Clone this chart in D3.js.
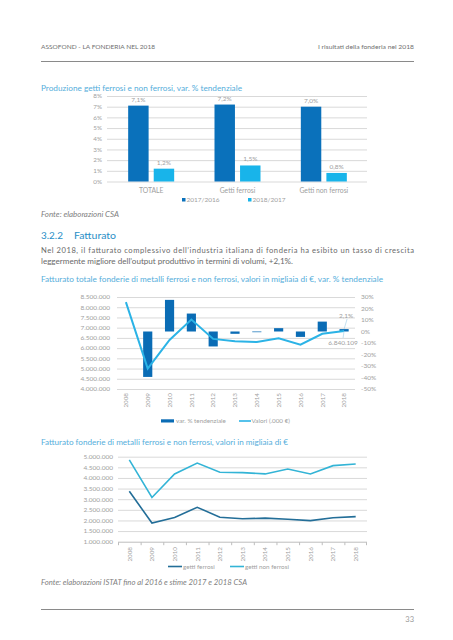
<!DOCTYPE html>
<html><head><meta charset="utf-8">
<script src="https://cdn.jsdelivr.net/npm/d3@7"></script>
<style>body{margin:0;background:#fff} svg{display:block} text{font-family:Lato,"Open Sans",sans-serif;font-weight:400}</style>
</head><body>
<script>
// ---------- DATA ----------
const prodCategories = ["TOTALE", "Getti ferrosi", "Getti non ferrosi"];
const prodSeries = ["2017/2016", "2018/2017"];
const prod1716 = [7.1, 7.2, 7.0];
const prod1817 = [1.2, 1.5, 0.8];
const prodTicks = [0, 1, 2, 3, 4, 5, 6, 7, 8];

const years = ["2008", "2009", "2010", "2011", "2012", "2013", "2014", "2015", "2016", "2017", "2018"];
const fattVar = [null, -39.5, 27.5, 15.6, -13.0, -2.0, -0.6, 2.9, -4.7, 8.6, 2.1];
const fattVal = [8250000, 5000000, 6400000, 7400000, 6450000, 6330000, 6300000, 6480000, 6170000, 6700000, 6840109];
const fattLeftTicks = [4000000, 4500000, 5000000, 5500000, 6000000, 6500000, 7000000, 7500000, 8000000, 8500000];
const fattRightTicks = [-50, -40, -30, -20, -10, 0, 10, 20, 30];

const getti = ["getti ferrosi", "getti non ferrosi"];
const ferrosi = [3370000, 1880000, 2140000, 2620000, 2150000, 2080000, 2110000, 2060000, 1990000, 2130000, 2180000];
const nonFerrosi = [4850000, 3080000, 4190000, 4700000, 4270000, 4250000, 4190000, 4420000, 4190000, 4580000, 4660000];
const gettiTicks = [1000000, 1500000, 2000000, 2500000, 3000000, 3500000, 4000000, 4500000, 5000000];

// ---------- SETUP ----------
const W = 453, H = 640;
const svg = d3.select("body").append("svg").attr("width", W).attr("height", H);
const it = d3.formatLocale({decimal: ",", thousands: ".", grouping: [3], currency: ["€", ""]});
const fmtInt = it.format(",d");
const fmtPct1 = v => it.format(".1f")(v) + "%";

const gray = "#a0a0a0", grid = "#d9d9d9", titleBlue = "#55aedb";

function txt(x, y, s, o = {}) {
  const t = svg.append("text").attr("x", x).attr("y", y).text(s)
    .attr("font-size", o.size || 7).attr("fill", o.fill || gray)
    .attr("text-anchor", o.anchor || "start");
  if (o.len) t.attr("textLength", o.len).attr("lengthAdjust", "spacingAndGlyphs");
  if (o.style) t.attr("font-style", o.style);
  if (o.weight) t.attr("font-weight", o.weight);
  return t;
}

// ---------- PAGE TEXT ----------
txt(41, 49, "ASSOFOND - LA FONDERIA NEL 2018", {size: 6.5, fill: "#707070", len: 114});
txt(414, 49, "I risultati della fonderia nel 2018", {size: 6.5, fill: "#707070", anchor: "end", len: 96});
svg.append("line").attr("x1", 41).attr("x2", 414).attr("y1", 61.5).attr("y2", 61.5).attr("stroke", "#8a8a8a").attr("stroke-width", 1);

txt(41, 91, "Produzione getti ferrosi e non ferrosi, var. % tendenziale", {size: 7.3, fill: titleBlue, len: 201});

txt(41, 217, "Fonte: elaborazioni CSA", {size: 7, fill: "#808080", style: "italic", len: 78});

txt(41, 238.5, "3.2.2", {size: 9, fill: "#2a8fc7", weight: 600, len: 22});
txt(74, 238.5, "Fatturato", {size: 9, fill: "#2a8fc7", weight: 600, len: 42});
txt(41, 253, "Nel 2018, il fatturato complessivo dell’industria italiana di fonderia ha esibito un tasso di crescita", {size: 7.6, fill: "#6a6a6a", len: 373}).attr("lengthAdjust", "spacing");
txt(41, 263.5, "leggermente migliore dell’output produttivo in termini di volumi, +2,1%.", {size: 7.6, fill: "#6a6a6a", len: 252});

txt(41, 282, "Fatturato totale fonderie di metalli ferrosi e non ferrosi, valori in migliaia di €, var. % tendenziale", {size: 7.5, fill: titleBlue, len: 342});

txt(41, 444.5, "Fatturato fonderie di metalli ferrosi e non ferrosi, valori in migliaia di €", {size: 7.5, fill: titleBlue, len: 247});

txt(41, 584.5, "Fonte: elaborazioni ISTAT fino al 2016 e stime 2017 e 2018 CSA", {size: 7, fill: "#808080", style: "italic", len: 206});

svg.append("line").attr("x1", 41).attr("x2", 414).attr("y1", 609.5).attr("y2", 609.5).attr("stroke", "#8a8a8a").attr("stroke-width", 1);
txt(414, 622, "33", {size: 7.5, fill: "#999", anchor: "end"});

// ---------- CHART 1 ----------
{
  const g = svg.append("g");
  const y = d3.scaleLinear().domain([0, 8]).range([181.5, 96]);
  const x0 = d3.scaleBand().domain(prodCategories).range([108, 367]);
  const half = 23;
  const x1 = d3.scaleBand().domain(prodSeries).range([x0.bandwidth() / 2 - half, x0.bandwidth() / 2 + half]).paddingInner(0.2);
  const colors = d3.scaleOrdinal().domain(prodSeries).range(["#0a71bb", "#18b4ea"]);
  g.append("g").selectAll("line").data(prodTicks).join("line")
    .attr("x1", 107).attr("x2", 367).attr("y1", d => y(d) + 0.5).attr("y2", d => y(d) + 0.5)
    .attr("stroke", grid).attr("stroke-width", 1);
  g.append("g").selectAll("text").data(prodTicks).join("text")
    .attr("x", 102).attr("y", d => y(d) + 2.3).attr("text-anchor", "end")
    .attr("font-size", 6.3).attr("fill", gray).text(d => d + "%");
  const rows = prodCategories.map((c, i) => ({c, vals: [prod1716[i], prod1817[i]]}));
  const cg = g.append("g").selectAll("g").data(rows).join("g").attr("transform", d => `translate(${x0(d.c)},0)`);
  cg.selectAll("rect").data(d => d.vals.map((v, j) => ({s: prodSeries[j], v}))).join("rect")
    .attr("x", d => x1(d.s)).attr("width", x1.bandwidth())
    .attr("y", d => y(d.v)).attr("height", d => y(0) - y(d.v)).attr("fill", d => colors(d.s));
  cg.selectAll("text").data(d => d.vals.map((v, j) => ({s: prodSeries[j], v}))).join("text")
    .attr("x", d => x1(d.s) + x1.bandwidth() / 2).attr("y", d => y(d.v) - 4)
    .attr("text-anchor", "middle").attr("font-size", 6.5).attr("fill", gray).text(d => fmtPct1(d.v));
  g.append("g").selectAll("text").data(prodCategories).join("text")
    .attr("x", d => x0(d) + x0.bandwidth() / 2).attr("y", 192.5).attr("text-anchor", "middle")
    .attr("font-size", 6.8).attr("fill", gray).text(d => d);
  // legend
  const lx = [182, 248];
  prodSeries.forEach((s, i) => {
    g.append("rect").attr("x", lx[i]).attr("y", 198).attr("width", 3.5).attr("height", 3.5).attr("fill", colors(s));
    g.append("text").attr("x", lx[i] + 4.5).attr("y", 202.3).attr("font-size", 6.5).attr("fill", gray).text(s);
  });
}

// ---------- CHART 2 ----------
{
  const g = svg.append("g");
  const x = d3.scaleBand().domain(years).range([115, 355]).paddingInner(0.58).paddingOuter(0.29);
  const xc = d => x(d) + x.bandwidth() / 2;
  const yL = d3.scaleLinear().domain([4000000, 8500000]).range([389, 297]);
  const yR = d3.scaleLinear().domain([-50, 30]).range([389, 297]);
  g.append("g").selectAll("line").data(fattLeftTicks).join("line")
    .attr("x1", 117).attr("x2", 355).attr("y1", d => yL(d) + 0.5).attr("y2", d => yL(d) + 0.5)
    .attr("stroke", grid).attr("stroke-width", 1);
  g.append("g").selectAll("text").data(fattLeftTicks).join("text")
    .attr("x", 110).attr("y", d => yL(d) + 2.3).attr("text-anchor", "end")
    .attr("font-size", 6.5).attr("fill", gray).text(d => fmtInt(d));
  g.append("g").selectAll("text").data(fattRightTicks).join("text")
    .attr("x", 361).attr("y", d => yR(d) + 2.3).attr("text-anchor", "start")
    .attr("font-size", 6.5).attr("fill", gray).text(d => d + "%");
  const barData = years.map((yr, i) => ({yr, v: fattVar[i]})).filter(d => d.v !== null);
  g.append("g").selectAll("rect").data(barData).join("rect")
    .attr("x", d => x(d.yr)).attr("width", x.bandwidth())
    .attr("y", d => Math.min(yR(0), yR(d.v))).attr("height", d => Math.abs(yR(d.v) - yR(0)))
    .attr("fill", "#0a6cb5");
  const line = d3.line().x((d, i) => xc(years[i])).y(d => yL(d));
  g.append("path").datum(fattVal).attr("d", line).attr("fill", "none")
    .attr("stroke", "#2bb3e6").attr("stroke-width", 2);
  g.append("g").selectAll("text").data(years).join("text")
    .attr("transform", d => `translate(${xc(d) + 2.3},393) rotate(-90)`)
    .attr("text-anchor", "end").attr("font-size", 6.3).attr("fill", gray).text(d => d);
  // data labels 2018
  const last = years.length - 1;
  const lxp = xc(years[last]);
  g.append("line").attr("x1", lxp + 3).attr("y1", 319).attr("x2", lxp).attr("y2", yR(fattVar[last]))
    .attr("stroke", "#9ccbe6").attr("stroke-width", 0.6);
  g.append("text").attr("x", lxp + 2).attr("y", 317.5).attr("text-anchor", "middle")
    .attr("font-size", 6.5).attr("fill", gray).text(fmtPct1(fattVar[last]));
  g.append("line").attr("x1", lxp).attr("y1", yL(fattVal[last])).attr("x2", lxp - 1).attr("y2", 338)
    .attr("stroke", "#9ccbe6").attr("stroke-width", 0.6);
  g.append("text").attr("x", lxp - 1).attr("y", 345).attr("text-anchor", "middle")
    .attr("font-size", 6.5).attr("fill", gray).text(fmtInt(fattVal[last]));
  // legend
  g.append("rect").attr("x", 161).attr("y", 419.3).attr("width", 13).attr("height", 3.2).attr("fill", "#0a6cb5");
  g.append("text").attr("x", 176).attr("y", 423.3).attr("font-size", 6.3).attr("fill", gray).text("var. % tendenziale");
  g.append("line").attr("x1", 239).attr("x2", 251).attr("y1", 421).attr("y2", 421).attr("stroke", "#2bb3e6").attr("stroke-width", 1.6);
  g.append("text").attr("x", 251.5).attr("y", 423.3).attr("font-size", 6.3).attr("fill", gray).text("Valori (.000 €)");
}

// ---------- CHART 3 ----------
{
  const g = svg.append("g");
  const x = d3.scaleBand().domain(years).range([118, 367]);
  const xc = d => x(d) + x.bandwidth() / 2;
  const y = d3.scaleLinear().domain([1000000, 5000000]).range([541.7, 456.7]);
  g.append("g").selectAll("line").data(gettiTicks).join("line")
    .attr("x1", 118).attr("x2", 367).attr("y1", d => y(d) + 0.5).attr("y2", d => y(d) + 0.5)
    .attr("stroke", d => d === 1000000 ? "#bdbdbd" : grid).attr("stroke-width", 1);
  g.append("g").selectAll("line").data(years.concat(["end"])).join("line")
    .attr("x1", (d, i) => i < years.length ? x(d) + 0.5 : 366.5)
    .attr("x2", (d, i) => i < years.length ? x(d) + 0.5 : 366.5)
    .attr("y1", y(1000000) + 0.5).attr("y2", y(1000000) + 3.5).attr("stroke", "#bdbdbd");
  g.append("g").selectAll("text").data(gettiTicks).join("text")
    .attr("x", 113).attr("y", d => y(d) + 2.3).attr("text-anchor", "end")
    .attr("font-size", 6.5).attr("fill", gray).text(d => fmtInt(d));
  const line = d3.line().x((d, i) => xc(years[i])).y(d => y(d));
  const col = d3.scaleOrdinal().domain(getti).range(["#236e98", "#33b4d6"]);
  [ferrosi, nonFerrosi].forEach((s, k) => {
    g.append("path").datum(s).attr("d", line).attr("fill", "none")
      .attr("stroke", col(getti[k])).attr("stroke-width", 1.6);
  });
  g.append("g").selectAll("text").data(years).join("text")
    .attr("transform", d => `translate(${xc(d) + 2.3},547) rotate(-90)`)
    .attr("text-anchor", "end").attr("font-size", 6.3).attr("fill", gray).text(d => d);
  const lx = [168, 230];
  getti.forEach((s, i) => {
    g.append("line").attr("x1", lx[i]).attr("x2", lx[i] + 14).attr("y1", 566.5).attr("y2", 566.5)
      .attr("stroke", col(s)).attr("stroke-width", 1.6);
    g.append("text").attr("x", lx[i] + 15).attr("y", 568.8).attr("font-size", 6.3).attr("fill", gray).text(s);
  });
}
</script>
</body></html>
